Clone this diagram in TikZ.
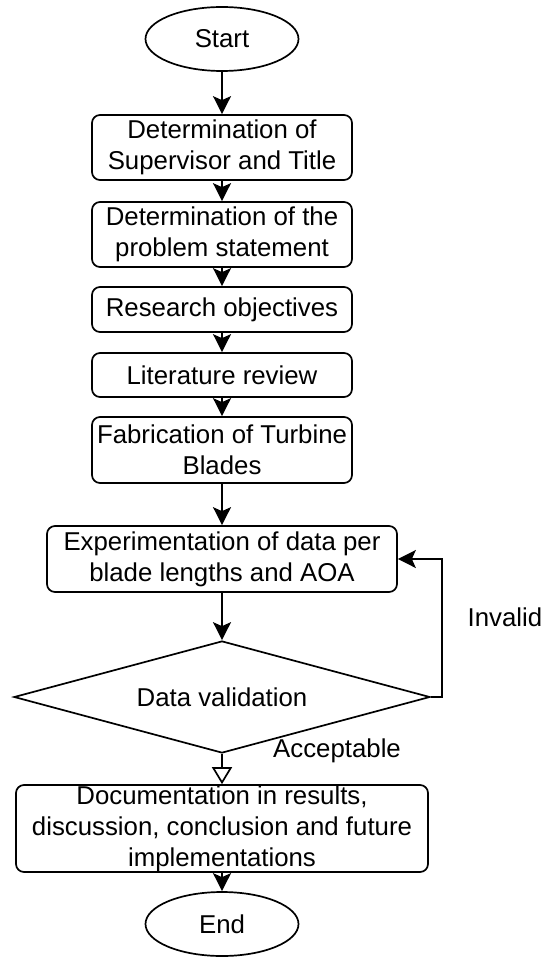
\documentclass[tikz,border=0pt]{standalone}
\usepackage{fontspec}
\setmainfont{Liberation Sans}
\usetikzlibrary{shapes.geometric,arrows.meta}
\newcommand{\flowfont}{\fontsize{25.8}{31}\selectfont}
\tikzset{
  proc/.style={draw, rounded corners=8pt, line width=1.7pt, fill=white,
    align=center, inner xsep=2pt, inner ysep=0pt, font=\flowfont},
  term/.style={draw, ellipse, line width=1.7pt, fill=white, inner sep=0pt,
    minimum width=153pt, minimum height=64pt, font=\flowfont},
  decision/.style={draw, diamond, aspect=3.7, line width=1.7pt, fill=white,
    inner sep=0pt, minimum width=416pt, minimum height=112pt, font=\flowfont},
  arr/.style={line width=1.7pt, -{Stealth[length=18pt,width=18pt,inset=4pt]}},
  openarr/.style={line width=1.7pt, -{Triangle[open,length=17pt,width=20pt]}},
  lbl/.style={font=\flowfont, inner sep=0pt}
}
\begin{document}
\begin{tikzpicture}[x=1pt,y=-1pt]
\useasboundingbox (0,0) rectangle (544,957);
% terminals
\node[term] (start) at (222,39) {Start};
\node[term] (end) at (222,924) {End};

% process steps
\node[proc, minimum width=260pt, minimum height=65pt] (sup) at (222,147.5)
  {Determination of\\Supervisor and Title};
\node[proc, minimum width=260pt, minimum height=65pt] (prob) at (222,234.5)
  {Determination of the\\problem statement};
\node[proc, minimum width=260pt, minimum height=45pt] (obj) at (222,309.5)
  {Research objectives};
\node[proc, minimum width=260pt, minimum height=44pt] (lit) at (222,375)
  {Literature review};
\node[proc, minimum width=260pt, minimum height=66pt] (fab) at (222,450)
  {Fabrication of Turbine\\Blades};
\node[proc, minimum width=350pt, minimum height=66pt] (expt) at (222,559)
  {Experimentation of data per\\blade lengths and AOA};

% decision
\node[decision] (valid) at (222,697) {Data validation};

\node[proc, minimum width=412pt, minimum height=87pt] (doc) at (222,828.5)
  {Documentation in results,\\discussion, conclusion and future\\implementations};

% connectors
\draw[arr] (start) -- (sup);
\draw[arr] (sup) -- (prob);
\draw[arr] (prob) -- (obj);
\draw[arr] (obj) -- (lit);
\draw[arr] (lit) -- (fab);
\draw[arr] (fab) -- (expt);
\draw[arr] (expt) -- (valid);
\draw[openarr] (valid) -- (doc);
\draw[arr] (doc) -- (end);
% loop back when invalid
\draw[arr] (valid.east) -- ++(11,0) |- (expt.east);

% branch labels
\node[lbl] (inv) at (505,617) {Invalid};
\node[lbl, anchor=west] (acc) at (273,751) {Acceptable};
\end{tikzpicture}
\end{document}
